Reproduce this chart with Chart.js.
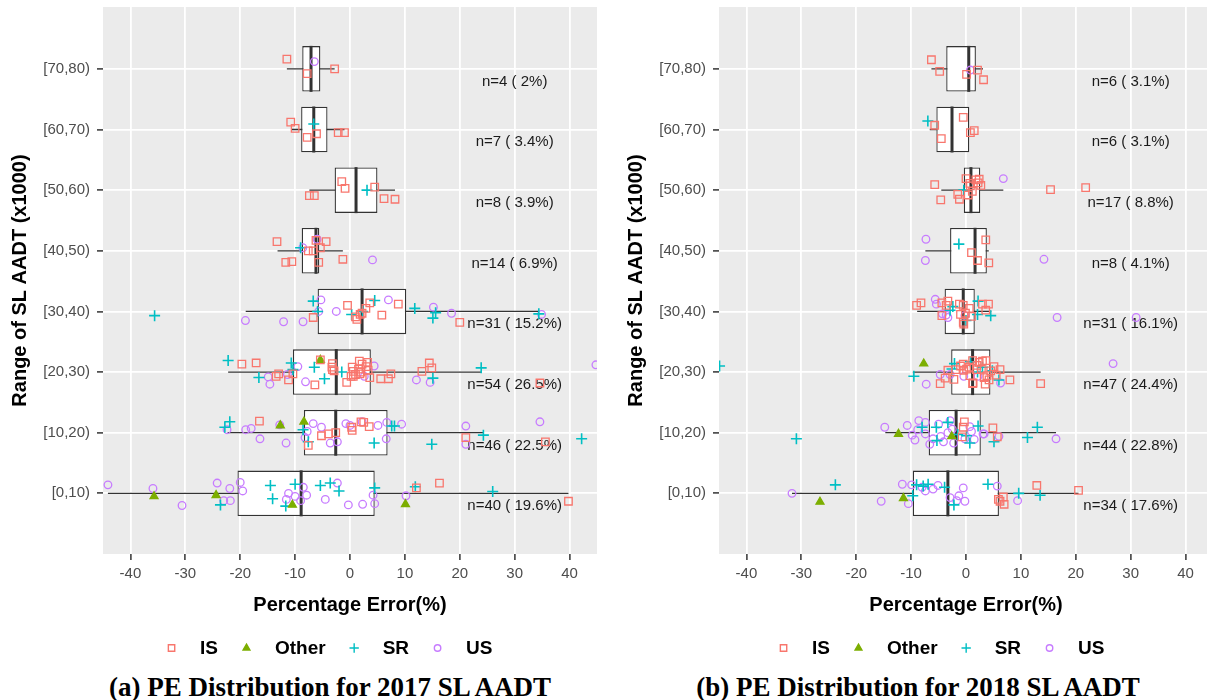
<!DOCTYPE html>
<html>
<head>
<meta charset="utf-8">
<script src="https://cdn.jsdelivr.net/npm/chart.js@4.4.1/dist/chart.umd.min.js"></script>
<style>
  html, body { margin: 0; padding: 0; background: #fff; width: 1207px; height: 700px; overflow: hidden; position: relative; }
  .panel { position: absolute; top: 0; width: 610px; height: 665px; }
  #wrapA { left: 0; }
  #wrapB { left: 616px; }
  .cap { position: absolute; top: 672px; line-height: 27px; font: bold 27px "Liberation Serif", "Times New Roman", serif; color: #000; white-space: nowrap; transform: translateX(-50%); }
</style>
</head>
<body>
<div class="panel" id="wrapA"><canvas id="chartA" width="610" height="665"></canvas></div>
<div class="panel" id="wrapB"><canvas id="chartB" width="610" height="665"></canvas></div>
<div class="cap" style="left:330px">(a) PE Distribution for 2017 SL AADT</div>
<div class="cap" style="left:918px">(b) PE Distribution for 2018 SL AADT</div>

<script>
const categories = ['[0,10)', '[10,20)', '[20,30)', '[30,40)', '[40,50)', '[50,60)', '[60,70)', '[70,80)'];
const xTicks = [-40, -30, -20, -10, 0, 10, 20, 30, 40];
const seriesNames = ['IS', 'Other', 'SR', 'US'];

// 2017 box statistics, one value per category
const lo2017  = [-44.1, -22.3, -22.2, -19.0, -13.2, -7.4, -10.6, -11.5];
const q1_2017 = [-20.5, -8.4, -10.4, -5.9, -8.8, -2.8, -8.9, -8.7];
const med2017 = [-8.9, -2.6, -2.5, 2.2, -6.2, 1.1, -6.6, -7.1];
const q3_2017 = [4.5, 6.85, 3.8, 10.25, -5.6, 5.0, -4.1, -5.4];
const hi2017  = [39.8, 24.3, 23.9, 34.4, -1.3, 8.2, -1.0, -2.8];
const n2017   = [40, 46, 54, 31, 14, 8, 7, 4];
const pct2017 = ['19.6', '22.5', '26.5', '15.2', '6.9', '3.9', '3.4', '2'];

// 2018 box statistics
const lo2018  = [-31.7, -14.7, -9.7, -8.9, -7.4, -4.5, -6.6, -6.3];
const q1_2018 = [-9.7, -6.8, -2.7, -3.9, -2.9, -0.4, -5.4, -3.6];
const med2018 = [-3.3, -1.8, 1.2, -0.5, 1.65, 0.9, -2.55, 0.5];
const q3_2018 = [6.0, 2.7, 4.45, 1.6, 3.8, 2.6, 0.6, 1.8];
const hi2018  = [20.5, 16.4, 13.6, 4.6, 4.15, 6.8, 0.6, 3.1];
const n2018   = [34, 44, 47, 31, 8, 17, 6, 6];
const pct2018 = ['17.6', '22.8', '24.4', '16.1', '4.1', '8.8', '3.1', '3.1'];

// points: [category index, PE, vertical jitter]
const is2017 = [
  [7,-11.5,0.16],[7,-7.8,-0.08],[7,-2.8,0],
  [6,-10.8,0.12],[6,-10.0,0.02],[6,-7.8,-0.13],[6,-6.1,-0.07],[6,-2.15,-0.05],[6,-1.0,-0.05],
  [5,-1.5,0.14],[5,-0.9,0.03],[5,4.5,0.05],[5,-7.4,-0.09],[5,-6.5,-0.09],[5,6.2,-0.14],[5,8.2,-0.15],
  [4,-13.3,0.15],[4,-4.35,0.15],[4,-7.6,0],[4,-6.7,0],[4,-5.4,0.05],[4,-11.7,-0.19],[4,-10.6,-0.18],[4,-5.7,-0.19],[4,-1.3,-0.14],[4,-6.2,0.17],
  [3,-6.7,-0.1],[3,-0.45,0.1],[3,1.25,-0.13],[3,1.85,-0.05],[3,3.6,0.14],[3,5.8,-0.06],[3,8.8,0.12],[3,20.0,-0.18],[3,2.2,-0.03],[3,1.0,-0.09],[3,2.9,0.05],
  [2,-19.7,0.13],[2,-17.1,0.15],[2,-13.0,-0.03],[2,-13.45,-0.07],[2,-11.2,-0.13],[2,-10.4,-0.03],[2,-6.4,-0.21],[2,-5.4,0.2],[2,-3.2,0.14],[2,-3.2,0.04],
  [2,-2.9,0.02],[2,-0.6,-0.17],[2,1.7,0.18],[2,0.6,0.01],[2,1.0,-0.04],[2,0.6,-0.07],[2,1.55,0.05],[2,2.2,0.13],[2,2.95,0.09],[2,3.3,0.03],
  [2,3.6,-0.09],[2,5.6,-0.11],[2,7.0,-0.11],[2,7.45,-0.03],[2,13.1,0.01],[2,14.45,0.15],[2,14.9,0.07],[2,34.6,-0.18],[2,2.0,0],[2,0.2,-0.07],
  [2,1.8,-0.03],[2,3.2,0.16],[2,0.4,0.08],[2,-3.3,0.08],
  [1,-16.5,0.19],[1,-7.6,-0.21],[1,-5.2,-0.05],[1,-3.9,-0.02],[1,-2.6,0],[1,0.4,0.04],[1,2.0,0.18],[1,2.5,0.17],[1,3.5,0.1],[1,21.1,-0.08],[1,35.6,-0.15],[1,0.3,0.09],
  [0,12.1,0.09],[0,16.3,0.17],[0,39.8,-0.13]
];
const other2017 = [
  [2,-5.4,0.2],
  [1,-12.7,0.12],[1,-8.4,0.18],
  [0,-35.7,-0.05],[0,-24.4,-0.03],[0,-10.5,-0.19],[0,10.1,-0.18]
];
const sr2017 = [
  [6,-6.6,0.09],[5,3.1,0],[4,-9.0,0.05],
  [3,-35.6,-0.07],[3,-6.7,0.17],[3,0.3,-0.05],[3,2.3,0],[3,4.5,0.18],[3,11.8,0.05],[3,15.6,-0.02],[3,15.1,-0.11],[3,34.4,-0.04],[3,-5.9,0],
  [2,-22.2,0.19],[2,-16.6,-0.09],[2,-10.7,0.15],[2,-10.4,0.04],[2,-6.5,0.08],[2,-4.65,-0.11],[2,-1.5,0],[2,15.1,-0.1],[2,23.9,0.07],
  [1,-21.9,0.18],[1,-22.8,0.09],[1,-8.55,0.05],[1,-7.6,-0.15],[1,4.4,-0.17],[1,7.6,0.11],[1,8.1,0.11],[1,24.3,-0.04],[1,14.9,-0.19],[1,42.2,-0.1],
  [0,-23.6,-0.19],[0,-14.5,0.13],[0,-14.1,-0.09],[0,-10.0,0.15],[0,-11.7,-0.21],[0,-5.4,0.13],[0,-3.6,0.17],[0,-2.0,0.04],[0,4.5,0.09],[0,11.9,0.11],[0,26.0,0.03]
];
const us2017 = [
  [7,-6.5,0.12],[4,-6.0,0.19],[4,-8.6,0.05],[4,4.1,-0.15],
  [3,-19.05,-0.15],[3,-12.1,-0.17],[3,-8.55,-0.17],[3,-5.3,0.19],[3,-5.7,0],[3,-2.5,0],[3,7.0,0.19],[3,15.2,0.07],[3,18.5,-0.03],[3,34.9,-0.05],
  [2,-14.9,-0.08],[2,-14.6,-0.2],[2,-11.4,-0.04],[2,-9.5,0.09],[2,-8.1,-0.16],[2,2.6,-0.07],[2,4.4,0.1],[2,12.1,-0.13],[2,14.6,-0.17],[2,44.8,0.12],
  [1,-22.4,0.05],[1,-19.0,0.05],[1,-18.0,0.07],[1,-16.4,-0.1],[1,-12.8,0.13],[1,-11.65,-0.17],[1,-7.8,0.02],[1,-8.2,-0.08],[1,-6.7,0.15],[1,-5.2,0.09],
  [1,-3.6,-0.17],[1,-2.3,-0.15],[1,-0.75,0.15],[1,0,0.12],[1,2.2,0.18],[1,5.1,0.12],[1,6.7,0.17],[1,6.6,-0.1],[1,9.4,0.14],[1,21.1,0.11],[1,21.1,-0.19],[1,34.6,0.18],
  [0,-44.1,0.14],[0,-35.9,0.08],[0,-30.6,-0.2],[0,-24.2,0.17],[0,-21.9,0.08],[0,-23.0,-0.12],[0,-21.8,-0.12],[0,-20.0,0.18],[0,-19.55,0.04],[0,-11.2,0],
  [0,-11.6,-0.1],[0,-10.0,-0.05],[0,-7.9,-0.03],[0,-2.3,0.17],[0,-4.5,-0.1],[0,-0.3,-0.19],[0,2.3,-0.18],[0,4.2,-0.03],[0,4.5,-0.17],[0,10.2,-0.04],[0,-9.0,-0.12],[0,-8.5,0.1]
];

const is2018 = [
  [7,-6.3,0.15],[7,-4.8,-0.04],[7,0.1,-0.09],[7,2.1,-0.02],[7,3.2,-0.18],
  [6,-5.7,0.07],[6,-4.5,-0.15],[6,-0.5,0.2],[6,0.8,-0.05],[6,1.5,-0.02],
  [5,-5.7,0.09],[5,-4.6,-0.16],[5,15.4,0.01],[5,21.8,0.04],[5,-1.5,-0.07],[5,-1.2,-0.15],[5,0,0.19],[5,0.4,-0.08],[5,0.8,0.07],[5,1.15,-0.02],
  [5,1.8,0.17],[5,2.4,0.18],[5,2.7,0.08],[5,0.7,0.11],[5,2.2,0.12],
  [4,3.6,0.18],[4,1.0,-0.03],[4,2.1,-0.16],[4,4.15,-0.2],
  [3,-9.0,0.1],[3,-8.2,0.14],[3,-4.4,0.14],[3,-3.3,0.17],[3,-3.6,0.1],[3,-0.5,0.1],[3,-1.2,0.12],[3,-4.4,-0.07],[3,-0.1,-0.03],[3,-0.5,-0.18],
  [3,-0.4,-0.21],[3,1.0,-0.08],[3,3.0,0.12],[3,4.1,0.12],[3,3.6,0.02],[3,0.6,0.05],[3,-1.0,-0.05],
  [2,-4.7,-0.19],[2,-3.8,-0.1],[2,-3.3,0.03],[2,-1.9,0.04],[2,-0.5,0.13],[2,-0.4,0.03],[2,0.1,0.05],[2,1.2,0.19],[2,0.55,0.08],[2,1.9,0.04],
  [2,2.4,0.16],[2,3.0,0.18],[2,3.6,0.19],[2,1.3,-0.18],[2,1.2,-0.19],[2,3.5,-0.2],[2,3.8,-0.06],[2,4.2,-0.13],[2,5.1,0.09],[2,6.2,0.04],
  [2,8.0,-0.13],[2,13.6,-0.19],[2,4.5,0.02],[2,2.8,0.05],[2,0.7,-0.06],[2,-1.0,0.1],[2,5.5,-0.05],[2,2.0,0.11],[2,3.3,-0.09],[2,-2.2,-0.12],
  [1,-0.3,0.18],[1,-0.5,0.09],[1,-0.7,-0.07],[1,4.9,0.08],[1,5.7,-0.07],
  [0,6.2,-0.13],[0,6.8,-0.06],[0,6.95,-0.18],[0,12.9,0.13],[0,20.5,0.05],[0,5.9,-0.1]
];
const other2018 = [
  [2,-7.7,0.14],
  [1,-12.3,-0.02],[1,-2.6,-0.06],
  [0,-26.6,-0.14],[0,-11.4,-0.08]
];
const sr2018 = [
  [6,-6.95,0.14],[5,-0.4,0],[4,-1.3,0.11],
  [3,-2.9,0.02],[3,0,-0.15],[3,2.2,0.17],[3,2.1,-0.05],[3,4.5,-0.07],[3,-2.4,0.08],
  [2,-44.9,0.1],[2,-9.5,-0.07],[2,-2.1,0.14],[2,-2.55,0.05],[2,0.8,0.17],[2,2.1,0],[2,4.8,0.02],[2,6.0,-0.13],[2,3.0,0.08],
  [1,-30.9,-0.1],[1,-8.0,0.09],[1,-5.4,0.09],[1,-5.3,-0.13],[1,-3.3,0.17],[1,-1.5,-0.03],[1,0.7,-0.17],[1,2.2,0.11],[1,5.1,-0.15],[1,11.2,-0.08],[1,13.0,0.09],[1,0.1,-0.05],
  [0,-23.8,0.14],[0,-9.7,-0.04],[0,-9.0,0.14],[0,-6.9,0.15],[0,-3.9,0.1],[0,-2.2,-0.19],[0,4.0,0.15],[0,9.6,0],[0,13.5,-0.03],[0,-7.8,0.12]
];
const us2018 = [
  [7,0.8,-0.02],[5,6.8,0.19],[4,-7.3,0.19],[4,-7.4,-0.16],[4,14.2,-0.14],
  [3,-5.6,0.2],[3,-5.4,0.12],[3,-3.3,-0.1],[3,-4.3,-0.04],[3,-3.6,-0.06],[3,16.6,-0.1],[3,31.0,-0.1],[3,-0.2,-0.07],
  [2,-7.25,-0.2],[2,-4.7,-0.04],[2,-2.9,-0.04],[2,-0.4,-0.07],[2,2.2,-0.07],[2,6.3,-0.18],[2,26.8,0.14],
  [1,-14.8,0.09],[1,-10.7,0.12],[1,-9.3,-0.12],[1,-8.6,0.2],[1,-7.4,0.17],[1,-8.8,0.05],[1,-7.4,-0.02],[1,-6.6,-0.19],[1,-4.6,-0.06],[1,-4.1,-0.15],
  [1,-3.3,0],[1,-2.9,0.2],[1,-2.25,-0.17],[1,-0.2,-0.1],[1,0.7,0.1],[1,1.0,0.02],[1,3.1,-0.02],[1,3.3,-0.02],[1,6.0,-0.06],[1,16.4,-0.1],
  [1,-2.5,0.06],[1,-6.0,-0.1],[1,1.5,-0.11],[1,-9.8,-0.04],[1,-5.0,0.14],
  [0,-31.7,0],[0,-15.45,-0.13],[0,-11.6,0.15],[0,-10.5,-0.17],[0,-9.9,0.14],[0,-7.4,0.04],[0,-6.0,0.07],[0,-5.1,0.13],[0,-2.9,-0.07],[0,-1.3,-0.04],
  [0,-1.7,-0.12],[0,-0.2,-0.13],[0,-0.5,0.09],[0,5.7,0.12],[0,9.4,-0.12],[0,-8.0,0.1]
];

// marker look per road type (ggplot default hues)
const seriesStyle = {
  IS:    { color: '#F8766D', pointStyle: 'rect',     radius: 5.3, filled: false },
  Other: { color: '#7CAE00', pointStyle: 'triangle', radius: 4.6, filled: true },
  SR:    { color: '#00BFC4', pointStyle: 'cross',    radius: 5.5, filled: false },
  US:    { color: '#C77CFF', pointStyle: 'circle',   radius: 3.8, filled: false }
};

const sansFont = '"Liberation Sans", Arial, Helvetica, sans-serif';
Chart.defaults.font.family = sansFont;

// grey panel behind the grid
const panelBg = {
  id: 'panelBg',
  beforeDraw(chart) {
    const { ctx, chartArea: a } = chart;
    ctx.save();
    ctx.fillStyle = '#EBEBEB';
    ctx.fillRect(a.left, a.top, a.right - a.left, a.bottom - a.top);
    ctx.restore();
  }
};

// "n=.. ( ..%)" text next to each box
const nLabels = {
  id: 'nLabels',
  beforeDatasetsDraw(chart, args, opts) {
    const { ctx, scales } = chart;
    ctx.save();
    ctx.font = '15px ' + sansFont;
    ctx.fillStyle = '#1A1A1A';
    ctx.textAlign = 'center';
    ctx.textBaseline = 'middle';
    opts.counts.forEach((n, i) => {
      const x = scales.x.getPixelForValue(opts.at);
      const y = scales.y.getPixelForValue(i + opts.offset);
      ctx.fillText('n=' + n + ' ( ' + opts.pcts[i] + '%)', x, y);
    });
    ctx.restore();
  }
};

// legend row under the x axis title
const peLegend = {
  id: 'peLegend',
  afterDraw(chart, args, opts) {
    const ctx = chart.ctx;
    ctx.save();
    ctx.font = 'bold 19px ' + sansFont;
    const gap = 28.5;
    let total = 0;
    seriesNames.forEach((name, i) => {
      total += 4 + gap + ctx.measureText(name).width;
      if (i < seriesNames.length - 1) total += gap - 4;
    });
    let x = opts.centerX - total / 2;
    seriesNames.forEach(name => {
      const st = seriesStyle[name];
      const cx = x + 4;
      ctx.strokeStyle = st.color;
      ctx.fillStyle = st.filled ? st.color : 'rgba(0,0,0,0)';
      ctx.lineWidth = 1.4;
      Chart.helpers.drawPoint(ctx, { pointStyle: st.pointStyle, radius: st.radius * 0.85, rotation: 0, borderWidth: 1.4 }, cx, opts.y);
      ctx.fillStyle = '#000';
      ctx.textBaseline = 'middle';
      ctx.textAlign = 'left';
      const tx = cx + gap;
      ctx.fillText(name, tx, opts.y + 1);
      x = tx + ctx.measureText(name).width + gap - 4;
    });
    ctx.restore();
  }
};

function toXY(list) {
  return list.map(p => ({ x: p[1], y: p[0] + p[2] }));
}

function makeChart(canvasId, stats, points, counts, pcts, legendX) {
  const datasets = [];

  seriesNames.forEach((name, k) => {
    const st = seriesStyle[name];
    datasets.push({
      type: 'scatter',
      label: name,
      data: toXY(points[k]),
      pointStyle: st.pointStyle,
      pointRadius: st.radius,
      pointBorderColor: st.color,
      pointBackgroundColor: st.filled ? st.color : 'rgba(0,0,0,0)',
      pointBorderWidth: st.pointStyle === 'cross' ? 1.6 : 1.3,
      order: 1
    });
  });

  datasets.push({
    type: 'scatter',
    label: 'median',
    data: stats.med.map((m, i) => ({ x: m, y: i })),
    pointStyle: 'line',
    rotation: 90,
    pointRadius: 23,
    pointBorderColor: '#333333',
    pointBorderWidth: 3,
    order: 2
  });

  datasets.push({
    type: 'bar',
    label: 'box',
    indexAxis: 'y',
    data: stats.q1.map((q, i) => ({ x: [q, stats.q3[i]], y: i })),
    backgroundColor: '#FFFFFF',
    borderColor: '#333333',
    borderWidth: 1.3,
    borderSkipped: false,
    categoryPercentage: 1,
    barPercentage: 0.75,
    order: 3
  });

  stats.lo.forEach((lo, i) => {
    datasets.push({
      type: 'scatter',
      label: 'whisker',
      data: [{ x: lo, y: i }, { x: stats.hi[i], y: i }],
      showLine: true,
      borderColor: '#333333',
      borderWidth: 1.3,
      pointRadius: 0,
      order: 4
    });
  });

  return new Chart(document.getElementById(canvasId), {
    type: 'scatter',
    data: { datasets: datasets },
    plugins: [panelBg, nLabels, peLegend],
    options: {
      responsive: false,
      animation: false,
      devicePixelRatio: 1,
      events: [],
      layout: { autoPadding: false, padding: { top: 7, right: 13, bottom: 48, left: 0 } },
      plugins: {
        legend: { display: false },
        tooltip: { enabled: false },
        nLabels: { counts: counts, pcts: pcts, at: 30, offset: -0.21 },
        peLegend: { centerX: legendX, y: 648 }
      },
      scales: {
        x: {
          type: 'linear',
          min: -45,
          max: 45,
          offset: false,
          afterBuildTicks: scale => { scale.ticks = xTicks.map(v => ({ value: v })); },
          afterFit: scale => { scale.height = 63; scale.paddingLeft = 0; scale.paddingRight = 0; },
          grid: { offset: false, color: '#FFFFFF', lineWidth: 1.8, tickColor: '#333333', tickLength: 6, tickWidth: 1.5 },
          border: { display: false },
          ticks: { color: '#4D4D4D', font: { size: 15 }, padding: 5, maxRotation: 0 },
          title: { display: true, text: 'Percentage Error(%)', color: '#000', font: { size: 20, weight: 'bold' }, padding: { top: 2, bottom: 0 } }
        },
        y: {
          type: 'linear',
          min: -1,
          max: 8.02,
          offset: false,
          afterBuildTicks: scale => { scale.ticks = categories.map((c, i) => ({ value: i })); },
          afterFit: scale => { scale.width = 103; scale.paddingTop = 0; scale.paddingBottom = 0; },
          grid: { offset: false, color: '#FFFFFF', lineWidth: 1.8, tickColor: '#333333', tickLength: 6, tickWidth: 1.5 },
          border: { display: false },
          ticks: { color: '#4D4D4D', font: { size: 15 }, padding: 7, callback: v => categories[v] },
          title: { display: true, text: 'Range of SL AADT (x1000)', color: '#000', font: { size: 20, weight: 'bold' }, padding: { top: 8, bottom: 0 } }
        }
      }
    }
  });
}

makeChart('chartA',
  { lo: lo2017, q1: q1_2017, med: med2017, q3: q3_2017, hi: hi2017 },
  [is2017, other2017, sr2017, us2017], n2017, pct2017, 330);

makeChart('chartB',
  { lo: lo2018, q1: q1_2018, med: med2018, q3: q3_2018, hi: hi2018 },
  [is2018, other2018, sr2018, us2018], n2018, pct2018, 326);
</script>
</body>
</html>
